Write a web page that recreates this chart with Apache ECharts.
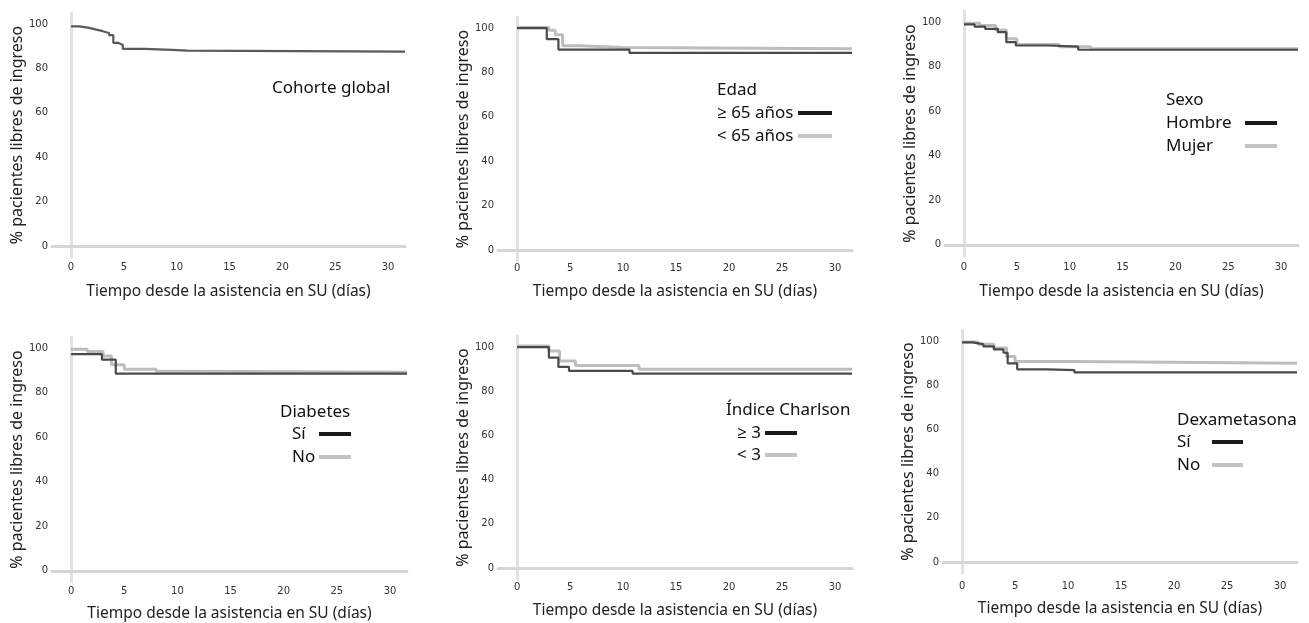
<!DOCTYPE html>
<html>
<head>
<meta charset="utf-8">
<script src="https://cdn.jsdelivr.net/npm/echarts@6/dist/echarts.min.js"></script>
<style>
html,body{margin:0;padding:0;background:#fff;}
#chart{width:1309px;height:623px;}
</style>
</head>
<body>
<div id="chart"></div>
<script>
// ---- data ----
var xTicks = [0, 5, 10, 15, 20, 25, 30];
var yTicks = [0, 20, 40, 60, 80, 100];
var xTitle = 'Tiempo desde la asistencia en SU (días)';
var yTitle = '% pacientes libres de ingreso';

var panelTitles = ['Cohorte global', 'Edad', 'Sexo', 'Diabetes', 'Índice Charlson', 'Dexametasona'];
var panelLabels = [[], ['≥ 65 años', '< 65 años'], ['Hombre', 'Mujer'], ['Sí', 'No'], ['≥ 3', '< 3'], ['Sí', 'No']];

var globalCurve = [[0,99],[0.8,98.4],[1.6,97.6],[2.3,96.8],[3,96],[3.6,95],[4.0,91.5],[4.5,90.6],[4.9,88.8],[7,88.4],[9.5,88],[11,87.6],[31.6,87.6]];
var edadMayor = [[0,100],[2.8,95],[3.9,90.3],[10.6,88.8],[31.6,88.8]];
var edadMenor = [[0,100.3],[3.0,99],[3.6,97],[4.3,92],[6,91.3],[10,90.7],[31.6,90.7]];
var sexoHombre = [[0,99],[1,98],[2,97],[3.2,95.5],[4,91],[4.9,89.5],[8,89],[10.8,87.6],[31.6,87.3]];
var sexoMujer = [[0,99.5],[1.5,98.5],[3,96.5],[4,92.5],[5,90],[9,89],[12,88],[31.6,88]];
var diabetesSi = [[0,97.3],[2.9,94.8],[4.2,88.6],[31.6,88.6]];
var diabetesNo = [[0,99.5],[1.5,98.5],[3,96.5],[3.8,92.5],[5,90.5],[8,89.6],[11,89.2],[31.6,89.2]];
var charlsonAlto = [[0,100],[3,95.2],[3.9,91],[4.9,89.2],[10.9,88],[31.6,88]];
var charlsonBajo = [[0,100.5],[3,98.2],[4,93.7],[5.5,91.7],[11.5,90],[31.6,90]];
var dexaSi = [[0,99.4],[1,98.6],[2,97.6],[3,96.2],[3.9,94.7],[4.3,89.9],[5.2,87.2],[8,86.8],[10.6,85.8],[31.6,85.8]];
var dexaNo = [[0,99.6],[1.5,98.5],[3,96.8],[4.2,93],[5,90.7],[10.6,89.9],[31.6,89.9]];

var panelSeries = [
  [globalCurve],
  [edadMayor, edadMenor],
  [sexoHombre, sexoMujer],
  [diabetesSi, diabetesNo],
  [charlsonAlto, charlsonBajo],
  [dexaSi, dexaNo]
];

// ---- layout ----
var grids = [
  {left:52, top:13, width:353, height:244},
  {left:498, top:17, width:354, height:244},
  {left:945, top:11, width:353, height:245},
  {left:52, top:337, width:355, height:245},
  {left:498, top:336, width:354, height:243},
  {left:943, top:330, width:354, height:243}
];
var xNameGaps = [27, 23, 28, 24, 24, 28];
var xLabelMargins = [5, 2, 6, 4, 3, 8];

var legendLayout = [
  {tx:272, ty:88, lx:0, sx:0, sw:0, rows:[]},
  {tx:717, ty:90, lx:717, sx:798, sw:34, rows:[113,136]},
  {tx:1166, ty:100, lx:1166, sx:1245, sw:32, rows:[123,146]},
  {tx:280, ty:412, lx:292, sx:319, sw:32, rows:[434,457]},
  {tx:726, ty:410, lx:737, sx:765, sw:32, rows:[433,455]},
  {tx:1177, ty:420, lx:1177, sx:1212, sw:31, rows:[442,465]}
];

var DARK = '#4a4a4a', LIGHT = '#bdbdbd';
var FONT = '"Noto Sans", "Open Sans", sans-serif';

var option = {
  animation:false,
  backgroundColor:'#fff',
  grid:[], xAxis:[], yAxis:[], series:[], graphic:[]
};

grids.forEach(function(g, i){
  option.grid.push(g);
  option.xAxis.push({
    type:'value', gridIndex:i, min:-1.8, max:31.6,
    axisLine:{show:true, lineStyle:{color:'#d6d6d6', width:3}},
    axisTick:{show:false},
    splitLine:{show:false},
    axisLabel:{customValues:xTicks, color:'#333', fontSize:10, fontFamily:'"DejaVu Sans", sans-serif', margin:xLabelMargins[i]},
    name:xTitle, nameLocation:'middle', nameGap:xNameGaps[i],
    nameTextStyle:{color:'#222', fontSize:15.5, fontFamily:FONT}
  });
  option.yAxis.push({
    type:'value', gridIndex:i, min:-5, max:105,
    axisLine:{show:true, lineStyle:{color:'#e2e2e2', width:3}},
    axisTick:{show:false},
    splitLine:{show:false},
    axisLabel:{customValues:yTicks, color:'#333', fontSize:10, fontFamily:'"DejaVu Sans", sans-serif', margin:4},
    name:yTitle, nameLocation:'middle', nameGap:23,
    nameTextStyle:{color:'#222', fontSize:16, fontFamily:FONT}
  });
  var curves = panelSeries[i];
  for (var k = curves.length - 1; k >= 0; k--) {
    var isDark = (k === 0);
    var nm = panelLabels[i].length ? panelLabels[i][k] : panelTitles[i];
    option.series.push({
      type:'line', name:panelTitles[i] + ': ' + nm,
      xAxisIndex:i, yAxisIndex:i,
      step:'end', showSymbol:false, symbol:'none',
      data:curves[k],
      lineStyle:{color: isDark ? (curves.length === 1 ? '#5a5a5a' : DARK) : LIGHT, width: isDark ? 2.2 : 3},
      z: isDark ? 3 : 2
    });
  }
  var L = legendLayout[i];
  option.graphic.push({
    type:'text', x:L.tx, y:L.ty,
    style:{text:panelTitles[i], fill:'#111', fontSize:17, fontFamily:FONT, verticalAlign:'middle'}
  });
  L.rows.forEach(function(ry, r){
    option.graphic.push({
      type:'text', x:L.lx, y:ry,
      style:{text:panelLabels[i][r], fill:'#111', fontSize:17, fontFamily:FONT, verticalAlign:'middle'}
    });
    option.graphic.push({
      type:'rect', shape:{x:L.sx, y:ry-2, width:L.sw, height:4},
      style:{fill: r === 0 ? '#1a1a1a' : '#c4c4c4'}
    });
  });
});

var chart = echarts.init(document.getElementById('chart'), null, {renderer:'canvas'});
chart.setOption(option);
</script>
</body>
</html>
